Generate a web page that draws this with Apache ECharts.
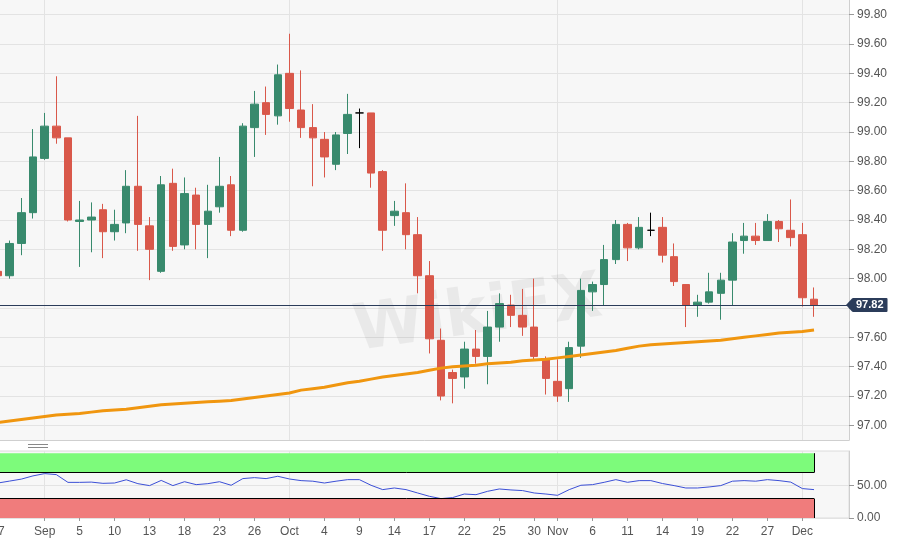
<!DOCTYPE html>
<html>
<head>
<meta charset="utf-8">
<title>Dollar index, daily</title>
<script src="https://cdn.jsdelivr.net/npm/echarts@6/dist/echarts.min.js"></script>
<style>
html, body { margin: 0; padding: 0; background: #fff; }
#chart { width: 900px; height: 546px; }
</style>
</head>
<body>
<div id="chart"></div>
<script>
// trading days, 27 Aug - 3 Dec 2019, plus three empty slots at the right edge
var days = [
    '2019-08-27', '2019-08-28', '2019-08-29', '2019-08-30',
    '2019-09-02', '2019-09-03', '2019-09-04', '2019-09-05', '2019-09-06',
    '2019-09-09', '2019-09-10', '2019-09-11', '2019-09-12', '2019-09-13',
    '2019-09-16', '2019-09-17', '2019-09-18', '2019-09-19', '2019-09-20',
    '2019-09-23', '2019-09-24', '2019-09-25', '2019-09-26', '2019-09-27',
    '2019-09-30',
    '2019-10-01', '2019-10-02', '2019-10-03', '2019-10-04',
    '2019-10-07', '2019-10-08', '2019-10-09', '2019-10-10', '2019-10-11',
    '2019-10-14', '2019-10-15', '2019-10-16', '2019-10-17', '2019-10-18',
    '2019-10-21', '2019-10-22', '2019-10-23', '2019-10-24', '2019-10-25',
    '2019-10-28', '2019-10-29', '2019-10-30', '2019-10-31',
    '2019-11-01',
    '2019-11-04', '2019-11-05', '2019-11-06', '2019-11-07', '2019-11-08',
    '2019-11-11', '2019-11-12', '2019-11-13', '2019-11-14', '2019-11-15',
    '2019-11-18', '2019-11-19', '2019-11-20', '2019-11-21', '2019-11-22',
    '2019-11-25', '2019-11-26', '2019-11-27', '2019-11-28', '2019-11-29',
    '2019-12-02', '2019-12-03',
    '2019-12-04', '2019-12-05', '2019-12-06'
];

var openData = [
    98.05, 98.02, 98.24, 98.45,
    98.82, 99.04, 98.96, 98.39, 98.40,
    98.47, 98.32, 98.38, 98.63, 98.36,
    98.05, 98.65, 98.23, 98.57, 98.37,
    98.49, 98.64, 98.33, 99.03, 99.20,
    99.11,
    99.40, 99.15, 99.03, 98.95,
    98.78, 98.99, 99.13, 99.13, 98.73,
    98.43, 98.45, 98.30, 98.02, 97.58,
    97.36, 97.33, 97.52, 97.47, 97.67,
    97.82, 97.75, 97.67, 97.45,
    97.30,
    97.25, 97.54, 97.91, 97.96, 98.13,
    98.37, 98.21, 98.33, 98.35, 98.15,
    97.96, 97.82, 97.84, 97.90, 97.99,
    98.26, 98.29, 98.26, 98.39, 98.33,
    98.30, 97.86
];
var closeData = [
    98.02, 98.24, 98.45, 98.83,
    99.04, 98.96, 98.40, 98.40, 98.42,
    98.32, 98.37, 98.63, 98.37, 98.20,
    98.64, 98.22, 98.58, 98.37, 98.46,
    98.63, 98.33, 99.04, 99.19, 99.12,
    99.39,
    99.16, 99.03, 98.96, 98.83,
    98.98, 99.12, 99.13, 98.72, 98.33,
    98.46, 98.30, 98.02, 97.59, 97.20,
    97.32, 97.52, 97.47, 97.67, 97.83,
    97.75, 97.67, 97.47, 97.32,
    97.20,
    97.53, 97.92, 97.96, 98.13, 98.37,
    98.21, 98.35, 98.33, 98.16, 97.98,
    97.82, 97.84, 97.91, 97.99, 98.25,
    98.29, 98.26, 98.39, 98.34, 98.28,
    97.87, 97.82
];
var lowData = [
    98.00, 98.00, 98.16, 98.41,
    98.81, 98.92, 98.39, 98.08, 98.18,
    98.14, 98.26, 98.31, 98.19, 97.99,
    98.04, 98.19, 98.20, 98.20, 98.14,
    98.45, 98.29, 98.32, 98.83, 98.98,
    99.05,
    99.07, 98.96, 98.63, 98.69,
    98.74, 98.85, 98.89, 98.62, 98.19,
    98.36, 98.20, 97.90, 97.49, 97.17,
    97.15, 97.25, 97.42, 97.28, 97.57,
    97.67, 97.61, 97.45, 97.21,
    97.16,
    97.16, 97.46, 97.78, 97.82, 98.10,
    98.12, 98.20, 98.29, 98.11, 97.95,
    97.67, 97.74, 97.83, 97.72, 97.82,
    98.17, 98.23, 98.26, 98.25, 98.22,
    97.81, 97.74
];
var highData = [
    98.07, 98.26, 98.55, 99.02,
    99.13, 99.38, 98.96, 98.53, 98.52,
    98.51, 98.47, 98.74, 99.11, 98.42,
    98.70, 98.75, 98.69, 98.62, 98.64,
    98.83, 98.70, 99.06, 99.28, 99.31,
    99.46,
    99.67, 99.42, 99.19, 99.00,
    99.00, 99.26, 99.16, 99.13, 98.74,
    98.53, 98.65, 98.42, 98.12, 97.66,
    97.38, 97.57, 97.65, 97.78, 97.90,
    97.89, 97.93, 98.00, 97.47,
    97.45,
    97.57, 98.00, 97.98, 98.23, 98.40,
    98.38, 98.42, 98.45, 98.42, 98.24,
    97.96, 97.89, 98.04, 98.04, 98.31,
    98.38, 98.38, 98.44, 98.40, 98.54,
    98.38, 97.94
];

// long moving average (orange)
var maData = [
    97.02, 97.03, 97.04, 97.05,
    97.06, 97.07, 97.075, 97.08, 97.09,
    97.10, 97.105, 97.11, 97.12, 97.13,
    97.14, 97.145, 97.15, 97.155, 97.16,
    97.165, 97.17, 97.18, 97.19, 97.20,
    97.21,
    97.22, 97.24, 97.25, 97.26,
    97.275, 97.29, 97.30, 97.315, 97.33,
    97.34, 97.35, 97.36, 97.375, 97.39,
    97.40, 97.405, 97.41, 97.42, 97.425,
    97.43, 97.44, 97.445, 97.45,
    97.46,
    97.47, 97.48, 97.49, 97.50, 97.51,
    97.525, 97.54, 97.55, 97.555, 97.56,
    97.565, 97.57, 97.575, 97.58, 97.59,
    97.60, 97.61, 97.62, 97.63, 97.635,
    97.64, 97.65
];

// RSI, lower panel
var rsiData = [
    54, 57, 60, 65,
    68.5, 67, 55, 55, 55.4,
    53.5, 54, 59, 53, 50,
    58, 50, 56, 51.5, 53,
    56, 50.5, 60.8, 62.3, 60.8,
    64.4,
    60.2, 57.7, 56.8, 54,
    56.8, 59.2, 59.2, 50.5, 43.8,
    46.3, 43.8, 38.6, 33.5, 29.9,
    31.5, 37, 36, 41.2, 44.8,
    43.3, 42.3, 38.6, 37,
    35,
    43.8, 50.5, 51.5, 55.1, 59.2,
    55.1, 57.7, 57.7, 53.2, 50,
    46.3, 46.3, 47.9, 50, 56.8,
    57.7, 56.8, 59.2, 57.7, 55.4,
    45.4, 43.8
];

var lastPrice = 97.82;
var overbought = 70;
var oversold = 30;

var priceTicks = [97.00, 97.20, 97.40, 97.60, 97.80, 98.00, 98.20, 98.40,
    98.60, 98.80, 99.00, 99.20, 99.40, 99.60, 99.80];
var rsiTicks = [0, 50];

var labelDays = ['2019-08-27', '2019-09-02', '2019-09-05', '2019-09-10', '2019-09-13',
    '2019-09-18', '2019-09-23', '2019-09-26', '2019-10-01', '2019-10-04', '2019-10-09',
    '2019-10-14', '2019-10-17', '2019-10-22', '2019-10-25', '2019-10-30', '2019-11-01',
    '2019-11-06', '2019-11-11', '2019-11-14', '2019-11-19', '2019-11-22', '2019-11-27',
    '2019-12-02'];
var labelTexts = ['27', 'Sep', '5', '10', '13', '18', '23', '26', 'Oct', '4', '9',
    '14', '17', '22', '25', '30', 'Nov', '6', '11', '14', '19', '22', '27', 'Dec'];
var monthStarts = ['2019-09-02', '2019-10-01', '2019-11-01', '2019-12-02'];

var nDays = openData.length;
var firstDay = days[0];
var lastDay = days[nDays - 1];
var candles = [];
for (var i = 0; i < nDays; i++) {
    candles.push([openData[i], closeData[i], lowData[i], highData[i]]);
}

var upColor = '#388a6d';
var downColor = '#d9584a';
var tagColor = '#2b3c5a';
var gridLine = '#e3e3e3';
var axisGrey = '#cfcfcf';
var textGrey = '#555';

function isLabelDay(index, value) {
    return labelDays.indexOf(value) >= 0;
}
function isMonthStart(index, value) {
    return monthStarts.indexOf(value) >= 0;
}

var chart = echarts.init(document.getElementById('chart'));

var option = {
    animation: false,
    backgroundColor: '#fff',
    textStyle: { fontFamily: 'Liberation Sans, Arial, sans-serif' },
    graphic: [{
        type: 'text',
        z: 1,
        x: 478, y: 316,
        rotation: 0.14,
        style: {
            text: 'WikiFX',
            fontSize: 64,
            fontWeight: 'bold',
            fontFamily: 'DejaVu Sans',
            fill: 'rgba(0,0,0,0.055)',
            align: 'center',
            verticalAlign: 'middle'
        }
    }, {
        // resize handle between the two panels
        type: 'group',
        z: 5,
        children: [
            { type: 'line', shape: { x1: 28, y1: 444.5, x2: 48, y2: 444.5 }, style: { stroke: '#888', lineWidth: 1 } },
            { type: 'line', shape: { x1: 28, y1: 447.5, x2: 48, y2: 447.5 }, style: { stroke: '#888', lineWidth: 1 } }
        ]
    }],
    grid: [{
        left: -2, right: 51, top: 0, height: 440,
        outerBoundsMode: 'none',
        show: true, backgroundColor: '#f7f7f7', borderWidth: 0
    }, {
        left: -2, right: 51, top: 451, height: 67,
        outerBoundsMode: 'none',
        show: true, backgroundColor: '#f7f7f7', borderColor: '#dcdcdc', borderWidth: 1
    }],
    xAxis: [{
        type: 'category',
        gridIndex: 0,
        data: days,
        boundaryGap: false,
        axisLine: { show: true, lineStyle: { color: axisGrey } },
        axisTick: { show: false },
        axisLabel: { show: false },
        splitLine: { show: true, interval: isMonthStart, lineStyle: { color: gridLine } }
    }, {
        type: 'category',
        gridIndex: 1,
        data: days,
        boundaryGap: false,
        axisLine: { show: false },
        axisTick: { show: true, interval: isLabelDay, length: 3, lineStyle: { color: '#999' } },
        axisLabel: {
            show: true,
            interval: isLabelDay,
            color: textGrey,
            fontSize: 12,
            margin: 8,
            formatter: function (value) {
                return labelTexts[labelDays.indexOf(value)];
            }
        },
        splitLine: { show: true, interval: isMonthStart, lineStyle: { color: gridLine } }
    }],
    yAxis: [{
        type: 'value',
        gridIndex: 0,
        position: 'right',
        min: 96.9,
        max: 99.9,
        axisLine: { show: true, lineStyle: { color: axisGrey } },
        axisTick: { show: true, length: 5, customValues: priceTicks, lineStyle: { color: '#999' } },
        axisLabel: {
            color: textGrey, fontSize: 12, margin: 8,
            customValues: priceTicks,
            formatter: function (v) { return v.toFixed(2); }
        },
        splitLine: { show: true, lineStyle: { color: gridLine } }
    }, {
        type: 'value',
        gridIndex: 1,
        position: 'right',
        min: 0,
        max: 103.4,
        axisLine: { show: true, lineStyle: { color: axisGrey } },
        axisTick: { show: true, length: 5, customValues: rsiTicks, lineStyle: { color: '#999' } },
        axisLabel: {
            color: textGrey, fontSize: 12, margin: 8,
            customValues: rsiTicks,
            formatter: function (v) { return v.toFixed(2); }
        },
        splitLine: { show: true, lineStyle: { color: gridLine } }
    }],
    series: [{
        name: 'Price',
        type: 'candlestick',
        xAxisIndex: 0,
        yAxisIndex: 0,
        barWidth: 8,
        data: candles,
        itemStyle: {
            color: upColor,
            color0: downColor,
            borderColor: upColor,
            borderColor0: downColor,
            borderColorDoji: '#000',
            borderWidth: 1
        },
        markLine: {
            silent: true,
            // end symbol: small triangle that makes the price tag point left
            symbol: ['none', 'path://M0,0 L10,0 L5,10 Z'],
            symbolSize: [13, 6],
            lineStyle: { color: tagColor, width: 1, type: 'solid' },
            label: {
                position: 'end',
                distance: 3,
                formatter: lastPrice.toFixed(2),
                color: '#fff',
                fontWeight: 'bold',
                fontSize: 11,
                backgroundColor: tagColor,
                padding: [2, 4, 1, 4],
                borderRadius: 1
            },
            data: [{ yAxis: lastPrice }]
        }
    }, {
        name: 'MA',
        type: 'line',
        xAxisIndex: 0,
        yAxisIndex: 0,
        data: maData,
        showSymbol: false,
        z: 3,
        lineStyle: { color: '#f0960f', width: 3 },
        itemStyle: { color: '#f0960f' }
    }, {
        name: 'RSI',
        type: 'line',
        xAxisIndex: 1,
        yAxisIndex: 1,
        data: rsiData,
        showSymbol: false,
        z: 4,
        lineStyle: { color: '#3b4fd6', width: 1 },
        itemStyle: { color: '#3b4fd6' },
        markArea: {
            silent: true,
            data: [
                [{ xAxis: firstDay, yAxis: overbought, itemStyle: { color: '#7dfb7b', opacity: 1 } },
                 { xAxis: lastDay, yAxis: 100 }],
                [{ xAxis: firstDay, yAxis: 0, itemStyle: { color: '#f07c7c', opacity: 1 } },
                 { xAxis: lastDay, yAxis: oversold }]
            ]
        },
        markLine: {
            silent: true,
            symbol: ['none', 'none'],
            label: { show: false },
            lineStyle: { color: '#000', width: 1, type: 'solid' },
            data: [
                [{ coord: [firstDay, overbought] }, { coord: [lastDay, overbought] }],
                [{ coord: [firstDay, oversold] }, { coord: [lastDay, oversold] }],
                [{ coord: [lastDay, overbought] }, { coord: [lastDay, 100] }],
                [{ coord: [lastDay, 0] }, { coord: [lastDay, oversold] }]
            ]
        }
    }]
};

chart.setOption(option);
</script>
</body>
</html>
